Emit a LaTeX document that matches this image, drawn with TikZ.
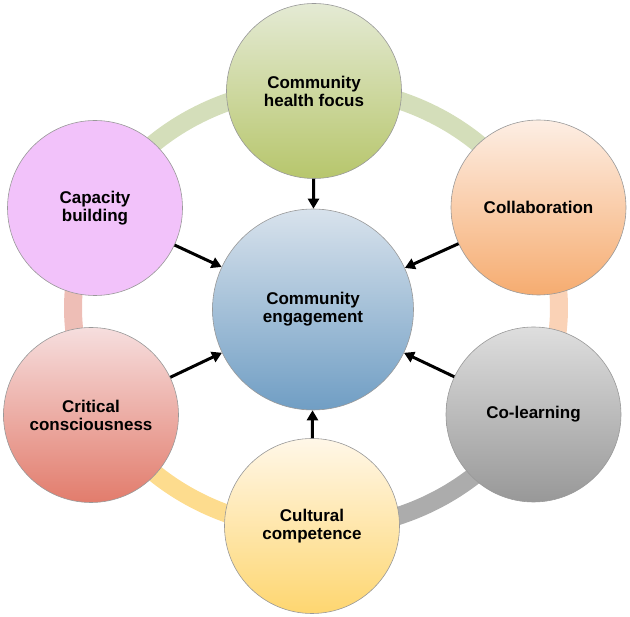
\documentclass[tikz,border=0pt]{standalone}
\usepackage{fontspec}
\setmainfont{Liberation Sans}
\usetikzlibrary{arrows.meta}
\definecolor{healthTop}{RGB}{228,234,212}
\definecolor{healthBot}{RGB}{183,198,108}
\definecolor{collabTop}{RGB}{253,238,228}
\definecolor{collabBot}{RGB}{246,172,112}
\definecolor{colearnTop}{RGB}{222,222,222}
\definecolor{colearnBot}{RGB}{152,152,152}
\definecolor{culturalTop}{RGB}{255,247,232}
\definecolor{culturalBot}{RGB}{254,214,112}
\definecolor{criticalTop}{RGB}{246,222,222}
\definecolor{criticalBot}{RGB}{226,124,108}
\definecolor{capacityFill}{RGB}{242,194,250}
\definecolor{engageTop}{RGB}{216,226,236}
\definecolor{engageBot}{RGB}{112,158,196}
\definecolor{ringGreen}{RGB}{212,222,186}
\definecolor{ringPeach}{RGB}{250,210,182}
\definecolor{ringGray}{RGB}{172,172,172}
\definecolor{ringYellow}{RGB}{253,220,142}
\definecolor{ringPink}{RGB}{238,190,182}
\begin{document}
\begin{tikzpicture}[x=1pt,y=1pt,line join=round,
  bubble/.style={circle,draw=gray!80,line width=0.6pt,minimum size=175pt,inner sep=0pt,align=center,
    font=\fontsize{17}{18}\selectfont\bfseries},
  feed/.style={line width=3pt,-{Triangle[length=10pt,width=11pt]}}]
  \useasboundingbox (0,0) rectangle (630,-617);
  \foreach \a/\b/\c in {153/90/ringGreen,90/26/ringGreen,26/-28/ringPeach,-28/-90/ringGray,-90/-152/ringYellow,208/153/ringPink}
    {\draw[\c,line width=18pt] (316,-308) ++(\a:243 and 221) arc[start angle=\a,end angle=\b,x radius=243,y radius=221];}
  \node[bubble,minimum size=201pt,top color=engageTop,bottom color=engageBot] (engage) at (313,-309.5) {Community\\engagement};
  \node[bubble,top color=healthTop,bottom color=healthBot] (health) at (314,-91) {Community\\health focus};
  \node[bubble,top color=collabTop,bottom color=collabBot] (collab) at (538.5,-207.5) {Collaboration};
  \node[bubble,top color=colearnTop,bottom color=colearnBot] (colearn) at (533.5,-414.5) {Co-learning};
  \node[bubble,top color=culturalTop,bottom color=culturalBot] (cultural) at (312,-526) {Cultural\\competence};
  \node[bubble,top color=criticalTop,bottom color=criticalBot] (critical) at (91,-415) {Critical\\consciousness};
  \node[bubble,fill=capacityFill] (capacity) at (95,-208) {Capacity\\building};
  \foreach \n in {health,collab,colearn,cultural,critical,capacity}
    {\draw[feed] (\n) -- (engage);}
\end{tikzpicture}
\end{document}
